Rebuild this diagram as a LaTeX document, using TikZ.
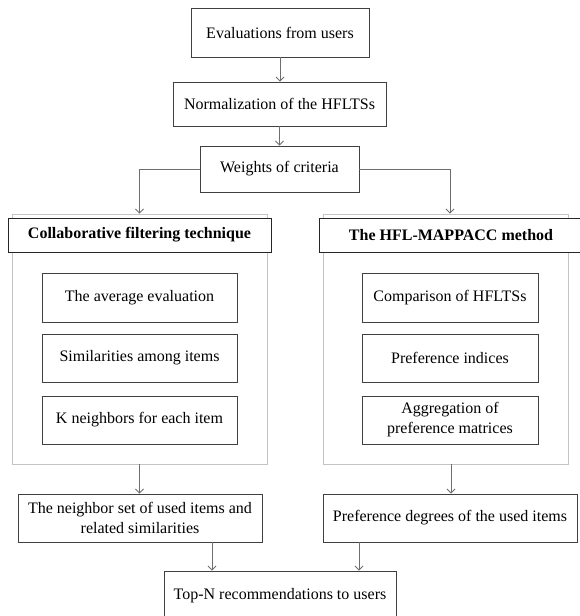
\documentclass[tikz,border=0pt]{standalone}
\usepackage{fontspec}
\setmainfont{Liberation Serif}
\usetikzlibrary{arrows.meta,calc}
\definecolor{linegray}{HTML}{6E6E6E}
\definecolor{boxgray}{HTML}{404040}
\definecolor{contgray}{HTML}{C4C4C4}
\tikzset{
  box/.style={draw=boxgray, line width=0.9pt, fill=white, inner sep=0pt, align=center,
    font=\fontsize{16pt}{20pt}\selectfont},
  hdr/.style={box, draw=black!85, font=\fontsize{16pt}{20pt}\selectfont\bfseries},
  container/.style={draw=contgray, line width=0.9pt, inner sep=0pt},
  arr/.style={draw=linegray, line width=0.8pt, -{Straight Barb[length=4pt,width=8pt]}},
}
\begin{document}
\begin{tikzpicture}[x=1pt,y=-1pt]
\useasboundingbox (0,0) rectangle (579,616);
% top chain
\node[box, minimum width=178, minimum height=49] (e1) at (280,32.5) {Evaluations from users};
\node[box, minimum width=213, minimum height=44] (e2) at (279.5,104) {Normalization of the HFLTSs};
\node[box, minimum width=159, minimum height=46] (e3) at (279.5,169) {Weights of criteria};
% containers
\node[container, minimum width=255, minimum height=250] (lc) at (139.5,339) {};
\node[container, minimum width=245, minimum height=250] (rc) at (445.5,339) {};
\node[hdr, minimum width=263, minimum height=34] (lh) at (139.5,235) {Collaborative filtering technique};
\node[hdr, minimum width=264, minimum height=34] (rh) at (451,235) {The HFL-MAPPACC method};
% inner left
\node[box, minimum width=195, minimum height=49] (la) at (139.5,297.5) {The average evaluation};
\node[box, minimum width=195, minimum height=48] (lb2) at (139.5,358) {Similarities among items};
\node[box, minimum width=195, minimum height=48] (lc2) at (139.5,420) {K neighbors for each item};
% inner right
\node[box, minimum width=176, minimum height=49] (ra) at (450,297.5) {Comparison of HFLTSs};
\node[box, minimum width=176, minimum height=48] (rb2) at (450,358) {Preference indices};
\node[box, minimum width=176, minimum height=48] (rc2) at (450,420) {Aggregation of\\preference matrices};
% bottom
\node[box, minimum width=244, minimum height=48] (lb) at (140,518) {The neighbor set of used items and\\related similarities};
\node[box, minimum width=254, minimum height=48] (rb) at (450,518) {Preference degrees of the used items};
\node[box, minimum width=232, minimum height=50] (tn) at (280,596) {Top-N recommendations to users};
% connectors
\draw[arr] (e1.south) -- (e1.south |- e2.north);
\draw[arr] (e2.south) -- (e2.south |- e3.north);
\draw[arr] (e3.west) -| (lc.north);
\draw[arr] (e3.east) -| ([xshift=4.5pt]rc.north);
\draw[arr] (lc.south) -- (lc.south |- lb.north);
\draw[arr] ([xshift=1pt]rb.north |- rc.south) -- ([xshift=1pt]rb.north);
\draw[arr] ([xshift=72pt]lb.south) -- ([xshift=72pt]lb.south |- tn.north);
\draw[arr] ([xshift=-91pt]rb.south) -- ([xshift=-91pt]rb.south |- tn.north);
\end{tikzpicture}
\end{document}
